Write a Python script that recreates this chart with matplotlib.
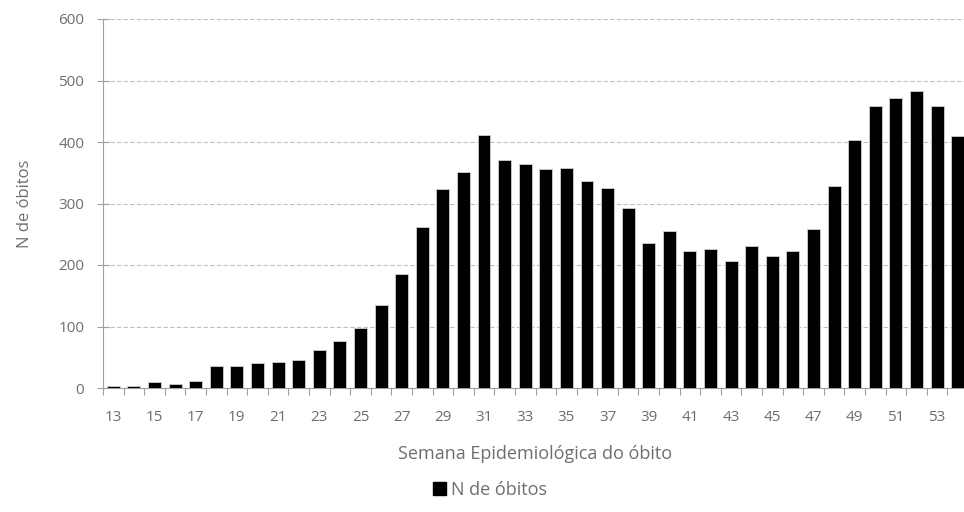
import matplotlib
matplotlib.use("Agg")
import matplotlib.pyplot as plt
from matplotlib.ticker import FixedLocator, NullFormatter
from matplotlib.patches import Patch

weeks = list(range(13, 55))
deaths = [3, 3, 9, 7, 12, 35, 35, 40, 42, 46, 61, 76, 98, 135, 186, 261, 324, 352,
          412, 371, 365, 356, 358, 337, 326, 292, 235, 255, 223, 226, 207, 231, 214,
          223, 259, 328, 403, 459, 472, 483, 459, 410]
yticks = [0, 100, 200, 300, 400, 500, 600]
series_name = "N de óbitos"
xlabel = "Semana Epidemiológica do óbito"
ylabel = "N de óbitos"

plt.rcParams['font.family'] = ['Open Sans', 'DejaVu Sans']
gray = '#6e6e6e'

fig = plt.figure(figsize=(9.64, 5.12), dpi=100)
ax = fig.add_axes([103/964, 124/512, 865/964, 369/512])

x = list(range(len(weeks)))
ax.bar(x, deaths, width=0.63, color='black', edgecolor='#d0d0d0', linewidth=0.6, zorder=3)

ax.set_xlim(-0.5, len(weeks) - 0.5)
ax.set_ylim(0, 600)
ax.set_yticks(yticks)
ax.set_yticklabels([str(v) for v in yticks], color=gray, fontsize=11)
ax.grid(axis='y', color='#c0c0c0', linestyle=(0, (4, 2)), linewidth=0.8, zorder=0)

ax.set_xticks(x[::2])
ax.set_xticklabels([str(w) for w in weeks[::2]], color=gray, fontsize=11)
ax.tick_params(axis='x', which='major', length=0, pad=16)
ax.xaxis.set_minor_locator(FixedLocator([i - 0.5 for i in range(len(weeks) + 1)]))
ax.xaxis.set_minor_formatter(NullFormatter())
ax.tick_params(axis='x', which='minor', length=5, color='#a0a0a0', width=0.8)
ax.tick_params(axis='y', direction='inout', length=9, color='#a0a0a0', width=0.8, pad=9)

for s in ['top', 'right']:
    ax.spines[s].set_visible(False)
for s in ['left', 'bottom']:
    ax.spines[s].set_color('#a0a0a0')
    ax.spines[s].set_linewidth(0.8)

ax.set_xlabel(xlabel, color=gray, fontsize=13, labelpad=14)
ax.set_ylabel(ylabel, color=gray, fontsize=12, labelpad=18)

fig.legend(handles=[Patch(facecolor='black', edgecolor='black', label=series_name)],
           loc='center', bbox_to_anchor=(490/964, 1 - 490/512), frameon=False,
           fontsize=13, labelcolor=gray, handlelength=0.75, handleheight=0.75,
           handletextpad=0.3)

fig.savefig('out.png', dpi=100)
